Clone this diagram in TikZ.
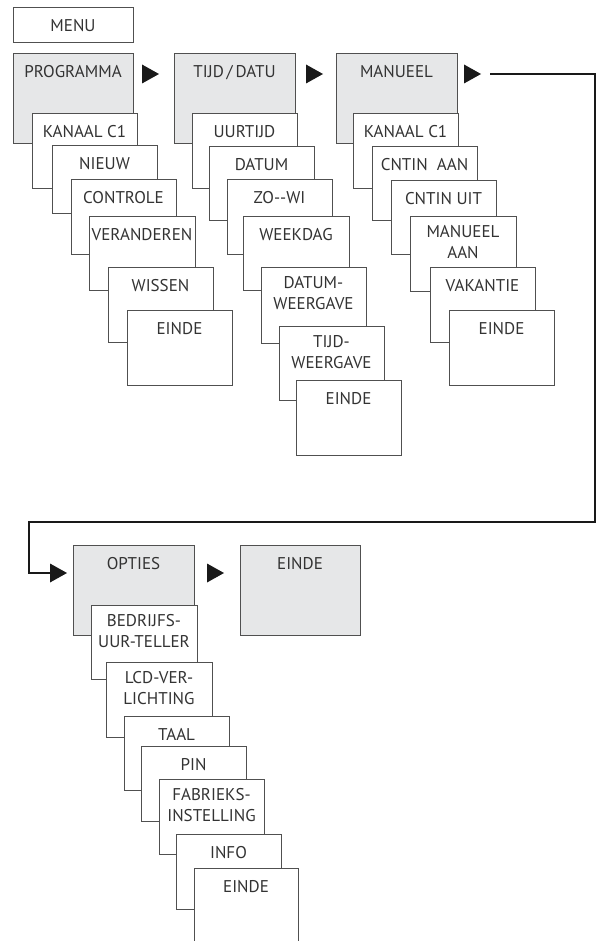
\documentclass[tikz,border=0pt]{standalone}
\usepackage{fontspec}
\setmainfont{PT Sans}
\usepackage{tikz}
\usetikzlibrary{fit}

\definecolor{boxline}{HTML}{505050}
\definecolor{boxfill}{HTML}{E6E7E8}
\definecolor{txtgray}{HTML}{333333}

\tikzset{
  subcard/.style={draw=boxline, fill=white, line width=0.9pt, inner sep=0pt},
  maincard/.style={subcard, fill=boxfill},
  cardtext/.style={text=txtgray, font=\fontsize{17}{21}\selectfont, align=center,
    inner sep=0pt, execute at begin node=\strut},
  flowline/.style={line width=2pt, draw=black!90},
  tri/.style={fill=black!90}
}

% card: name, style, top left corner, bottom right corner, text
\newcommand{\card}[5]{%
  \node[#2, fit={#3 #4}] (#1) {};
  \node[cardtext, anchor=north] (#1-t) at ([yshift=-9.8pt]#1.north) {#5};
}

\begin{document}
\begin{tikzpicture}[x=1pt,y=-1pt]
\useasboundingbox (0,0) rectangle (596,941);

\card{menu}{subcard}{(13,7)}{(133,42)}{MENU}

% first column
\card{prog}{maincard}{(13,53)}{(133,143)}{PROGRAMMA}
\card{kanaalA}{subcard}{(32,113)}{(137,188)}{KANAAL C1}
\card{nieuw}{subcard}{(52,145)}{(157,213)}{NIEUW}
\card{controle}{subcard}{(71,179)}{(176,254)}{CONTROLE}
\card{veranderen}{subcard}{(89,216)}{(195,290)}{VERANDEREN}
\card{wissen}{subcard}{(108,267)}{(213,342)}{WISSEN}
\card{eindeA}{subcard}{(127,310)}{(232,385)}{EINDE}

% second column
\card{tijd}{maincard}{(174,53)}{(295,143)}{TIJD\,/\,DATU}
\card{uurtijd}{subcard}{(192,113)}{(297,188)}{UURTIJD}
\card{datum}{subcard}{(209,146)}{(314,220)}{DATUM}
\card{zowi}{subcard}{(227,179)}{(332,254)}{ZO-{}-WI}
\card{weekdag}{subcard}{(243,216)}{(349,290)}{WEEKDAG}
\card{datumwg}{subcard}{(261,267)}{(366,343)}{DATUM-\\WEERGAVE}
\card{tijdwg}{subcard}{(279,326)}{(384,400)}{TIJD-\\WEERGAVE}
\card{eindeB}{subcard}{(296,380)}{(401,455)}{EINDE}

% third column
\card{manueel}{maincard}{(336,53)}{(457,143)}{MANUEEL}
\card{kanaalB}{subcard}{(353,113)}{(458,188)}{KANAAL C1}
\card{cntinaan}{subcard}{(372,146)}{(477,220)}{CNTIN\ \ AAN}
\card{cntinuit}{subcard}{(391,180)}{(496,254)}{CNTIN UIT}
\card{manaan}{subcard}{(410,216)}{(516,291)}{MANUEEL\\AAN}
\card{vakantie}{subcard}{(430,267)}{(535,342)}{VAKANTIE}
\card{eindeC}{subcard}{(449,310)}{(554,385)}{EINDE}

% lower row
\card{opties}{maincard}{(73,545)}{(194,635)}{OPTIES}
\card{einde}{maincard}{(240,545)}{(360,635)}{EINDE}
\card{bedrijfs}{subcard}{(91,605)}{(197,679)}{BEDRIJFS-\\UUR-TELLER}
\card{lcd}{subcard}{(106,662)}{(212,737)}{LCD-VER-\\LICHTING}
\card{taal}{subcard}{(124,716)}{(229,790)}{TAAL}
\card{pin}{subcard}{(141,746)}{(246,821)}{PIN}
\card{fabrieks}{subcard}{(159,779)}{(264,854)}{FABRIEKS-\\INSTELLING}
\card{info}{subcard}{(176,834)}{(281,909)}{INFO}
\card{eindeD}{subcard}{(194,868)}{(298,950)}{EINDE}

% triangles
\coordinate (arrA) at (142,74);
\coordinate (arrB) at (306,74);
\coordinate (arrC) at (464,74);
\coordinate (arrD) at (50,573);
\coordinate (arrE) at (207,573);
\foreach \a in {arrA,arrB,arrC,arrD,arrE}
  \fill[tri] (\a) -- ++(0,-9.5) -- ++(17,9.5) -- ++(-17,9.5) -- cycle;

% connector to the options row
\coordinate (turnR) at (595,522);
\coordinate (turnL) at (29,522);
\draw[flowline] ([xshift=26pt]arrC) -| (turnR) -- (turnL) |- (arrD);
\end{tikzpicture}
\end{document}
